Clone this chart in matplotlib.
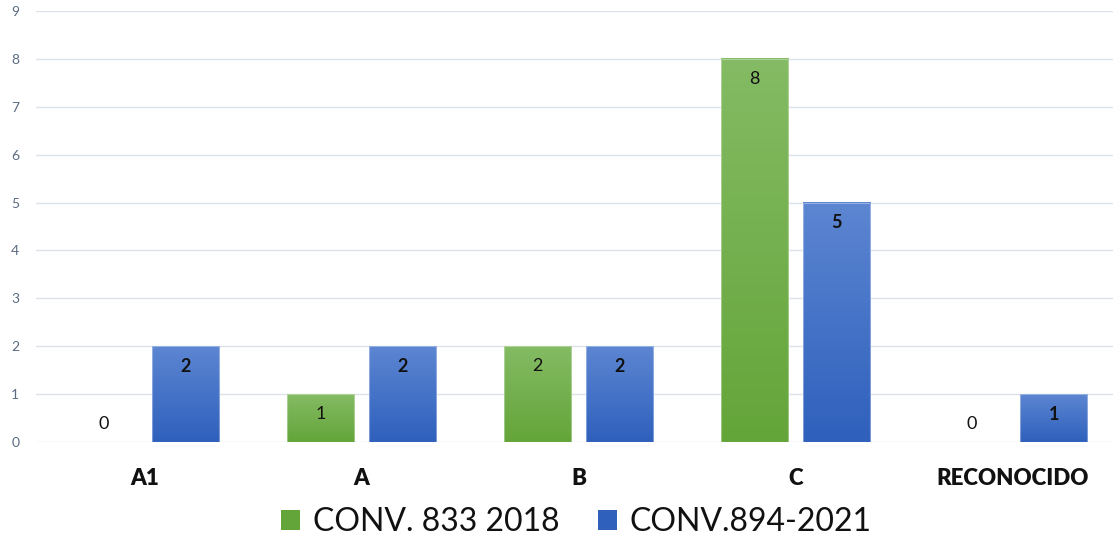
import numpy as np
import matplotlib
matplotlib.use('Agg')
import matplotlib.pyplot as plt
from matplotlib.colors import LinearSegmentedColormap
from matplotlib.patches import Patch

plt.rcParams['font.family'] = ['Lato', 'DejaVu Sans']

categories = ['A1', 'A', 'B', 'C', 'RECONOCIDO']
series_names = ['CONV. 833 2018', 'CONV.894-2021']
conv_2018 = [0, 1, 2, 8, 0]
conv_2021 = [2, 2, 2, 5, 1]

GREEN_TOP, GREEN_BOT = '#84bb64', '#64a539'
BLUE_TOP, BLUE_BOT = '#5d86d2', '#2e60bc'
GRID = '#dde2ea'
TICK = '#5b6b80'

W, H = 1113, 542
fig = plt.figure(figsize=(W/100, H/100), dpi=100)
left, right = 36, 1113
bottom_px, top_px = 442, 11
ax = fig.add_axes([left/W, 1 - bottom_px/H, (right-left)/W, (bottom_px-top_px)/H])

x = np.arange(len(categories))
bw = 0.31
off = 0.19
span = (right - left) / 217.0
ax.set_xlim(-0.5, -0.5 + span)
ax.set_ylim(0, 9)

def grad_bars(xs, vals, top, bot, bold):
    cmap = LinearSegmentedColormap.from_list('g', [bot, top])
    bars = ax.bar(xs, vals, bw, color='none', edgecolor='none', zorder=3)
    grad = np.linspace(0, 1, 256).reshape(-1, 1)
    for b, v in zip(bars, vals):
        if v > 0:
            x0 = b.get_x()
            ax.imshow(grad, extent=[x0, x0 + b.get_width(), 0, v], origin='lower',
                      cmap=cmap, aspect='auto', zorder=3)
            ax.add_patch(plt.Rectangle((x0, 0), b.get_width(), v, fill=False,
                                       edgecolor='#ffffff', lw=0.8, alpha=0.35, zorder=4))
        cx = b.get_x() + b.get_width()/2
        ty = v - 0.42 if v > 0 else 0.37
        ax.text(cx, ty, str(v), ha='center', va='center', fontsize=13,
                fontweight='bold' if bold else 'normal', color='#111111', zorder=5)
    return bars

grad_bars(x - off, conv_2018, GREEN_TOP, GREEN_BOT, False)
grad_bars(x + off, conv_2021, BLUE_TOP, BLUE_BOT, True)

ax.set_yticks(range(0, 10))
ax.yaxis.grid(True, color=GRID, lw=1.0, zorder=0)
ax.set_axisbelow(True)
for s in ax.spines.values():
    s.set_visible(False)
ax.tick_params(axis='y', length=0, labelsize=10, labelcolor=TICK, pad=12)
ax.set_xticks(x)
ax.set_xticklabels(categories, fontsize=16, fontweight='heavy', color='#111111')
ax.tick_params(axis='x', length=0, pad=19)

handles = [Patch(facecolor=GREEN_BOT, edgecolor='none'),
           Patch(facecolor=BLUE_BOT, edgecolor='none')]
fig.legend(handles, series_names, loc='center', bbox_to_anchor=(0.518, 1 - 522/H),
           ncol=2, frameon=False, fontsize=23, handlelength=0.6, handleheight=0.6,
           handletextpad=0.4, columnspacing=1.2, labelcolor='#111111',
           borderpad=0)

fig.savefig('out.png', dpi=100)
